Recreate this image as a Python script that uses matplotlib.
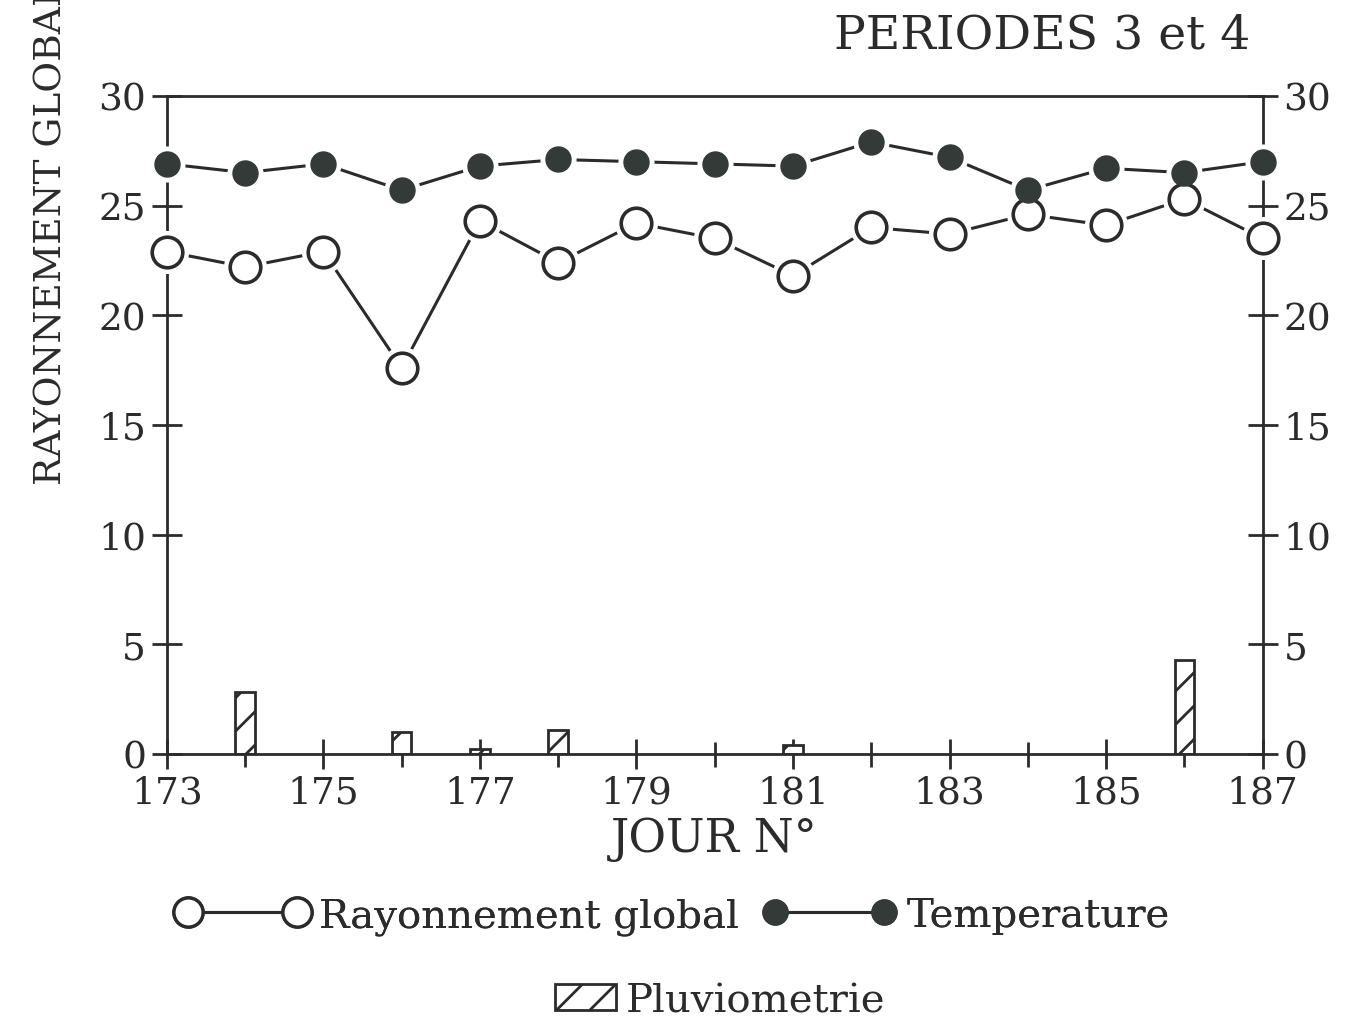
import numpy as np
import matplotlib
matplotlib.use("Agg")
import matplotlib.pyplot as plt
from matplotlib.lines import Line2D
from matplotlib.patches import Patch
import matplotlib.ticker as mticker

plt.rcParams['font.family'] = ['DejaVu Serif']
plt.rcParams['hatch.linewidth'] = 2.0

# ── data ────────────────────────────────────────────────────
jours = np.arange(173, 188)
rayonnement = [22.9, 22.2, 22.9, 17.6, 24.3, 22.4, 24.2, 23.5, 21.8,
               24.0, 23.7, 24.6, 24.1, 25.3, 23.5]
temperature = [26.9, 26.5, 26.9, 25.7, 26.8, 27.1, 27.0, 26.9, 26.8,
               27.9, 27.2, 25.7, 26.7, 26.5, 27.0]
pluvio_jours = [174, 176, 177, 178, 181, 186]
pluvio = [2.8, 1.0, 0.2, 1.1, 0.4, 4.3]

INK = "#2b2b2b"
DOT = "#333a38"

fig = plt.figure(figsize=(13.46, 10.2), dpi=100)
ax = fig.add_axes([0.124, 0.26, 0.814, 0.645])

# rainfall bars
ax.bar(pluvio_jours, pluvio, width=0.25, facecolor="white",
       edgecolor=INK, linewidth=2, hatch="/", zorder=2)

# global radiation: open circles with a small gap round each marker
ax.plot(jours, rayonnement, color=INK, lw=2.2, zorder=3, clip_on=False)
ax.plot(jours, rayonnement, ls="none", marker="o", ms=30,
        mfc="white", mec="white", zorder=4, clip_on=False)
ax.plot(jours, rayonnement, ls="none", marker="o", ms=22,
        mfc="white", mec=INK, mew=2.6, zorder=5, clip_on=False)

# temperature: filled circles
ax.plot(jours, temperature, color=INK, lw=2.2, zorder=3, clip_on=False)
ax.plot(jours, temperature, ls="none", marker="o", ms=25,
        mfc="white", mec="white", zorder=4, clip_on=False)
ax.plot(jours, temperature, ls="none", marker="o", ms=18,
        mfc=DOT, mec=DOT, zorder=5, clip_on=False)

ax.set_xlim(173, 187)
ax.set_ylim(0, 30)
ax.set_xticks(np.arange(173, 188, 2))
ax.xaxis.set_minor_locator(mticker.MultipleLocator(1))
ax.set_yticks(np.arange(0, 31, 5))

for sp in ax.spines.values():
    sp.set_color(INK)
    sp.set_linewidth(2)

ax.tick_params(axis="both", which="both", direction="inout", color=INK,
               width=2, labelsize=27, labelcolor=INK)
ax.tick_params(axis="both", which="major", length=22, pad=4)
ax.tick_params(axis="x", which="minor", length=18)
ax.tick_params(axis="y", left=True, right=True, labelleft=True,
               labelright=True)
ax.tick_params(axis="x", top=False)

ax.set_xlabel("JOUR N°", fontsize=33, color=INK, labelpad=4)
# the label runs off the top edge of the page, as in the scan
fig.text(0.038, 0.5245, "RAYONNEMENT GLOBAL", rotation=90, fontsize=27,
         color=INK, ha="center", va="bottom")
fig.text(0.774, 0.965, "PERIODES 3 et 4", fontsize=34, color=INK,
         ha="center", va="center")

# legends under the chart
handles = [Line2D([], [], color=INK, lw=2.2, marker="o", ms=21,
                  mfc="white", mec=INK, mew=2.4),
           Line2D([], [], color=INK, lw=2.2, marker="o", ms=18,
                  mfc=DOT, mec=DOT)]
leg1 = fig.legend(handles, ["Rayonnement global", "Temperature"],
                  loc="center", bbox_to_anchor=(0.5, 0.101), ncol=2,
                  numpoints=2, frameon=False, fontsize=29,
                  handlelength=3.3, handletextpad=0.25, columnspacing=0.6,
                  labelcolor=INK)
leg2 = fig.legend([Patch(facecolor="white", edgecolor=INK, hatch="/",
                         linewidth=2)], ["Pluviometrie"],
                  loc="center", bbox_to_anchor=(0.535, 0.018),
                  frameon=False, fontsize=29, handlelength=1.5,
                  handleheight=0.6, handletextpad=0.25, labelcolor=INK)
fig.add_artist(leg1)

fig.savefig("out.png", dpi=100)
